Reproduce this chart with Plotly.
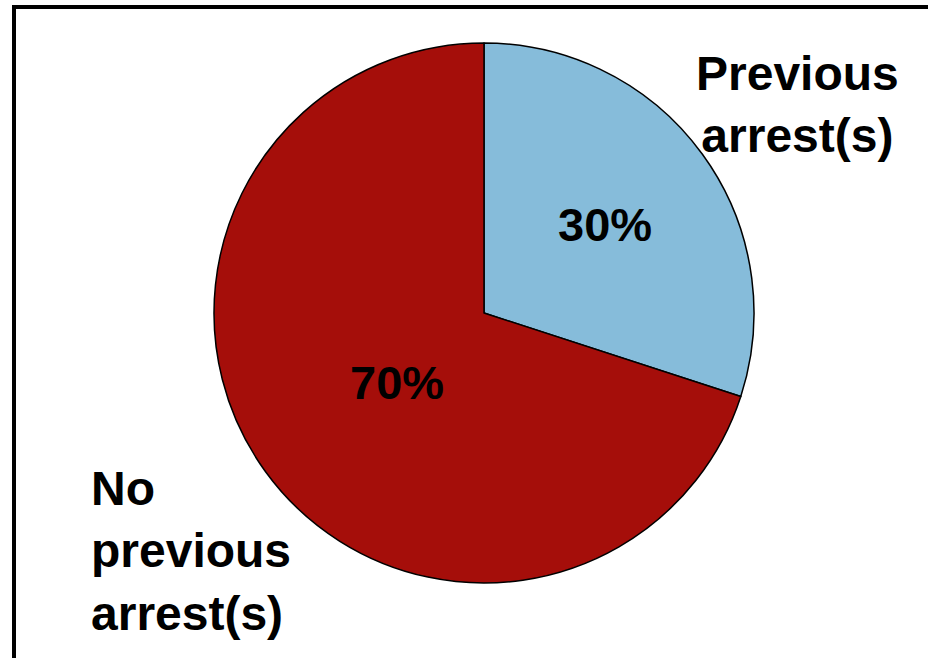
import plotly.graph_objects as go

categories = ["Previous arrest(s)", "No previous arrest(s)"]
values = [30, 70]
colors = ["#86BCDA", "#A50E0A"]
outer_labels = ["Previous<br>arrest(s)", "No<br>previous<br>arrest(s)"]

W, H = 928, 658
FONT = "Liberation Sans, Arial, Helvetica, sans-serif"

cx, cy, r = 484, 313, 270

fig = go.Figure(go.Pie(
    labels=categories,
    values=values,
    sort=False,
    direction="clockwise",
    rotation=0,
    marker=dict(colors=colors, line=dict(color="black", width=1.5)),
    textinfo="none",
    hoverinfo="label+percent",
    showlegend=False,
    domain=dict(x=[(cx - r) / W, (cx + r) / W], y=[(H - cy - r) / H, (H - cy + r) / H]),
))

total = sum(values)
pct_pos = [(605, 225), (397, 382)]
annotations = []
for v, (px, py) in zip(values, pct_pos):
    annotations.append(dict(
        x=px / W, y=1 - py / H, xref="paper", yref="paper",
        text=f"<b>{round(100 * v / total)}%</b>", showarrow=False,
        font=dict(family=FONT, size=47, color="black"),
        xanchor="center", yanchor="middle",
    ))

annotations.append(dict(
    x=797 / W, y=1 - 105 / H, xref="paper", yref="paper",
    text=f"<b>{outer_labels[0]}</b>", showarrow=False, align="center",
    font=dict(family=FONT, size=48, color="black"),
    xanchor="center", yanchor="middle",
))
annotations.append(dict(
    x=89 / W, y=1 - 551 / H, xref="paper", yref="paper",
    text=f"<b>{outer_labels[1]}</b>", showarrow=False, align="left",
    font=dict(family=FONT, size=48, color="black"),
    xanchor="left", yanchor="middle",
))

fig.update_layout(
    width=W, height=H,
    margin=dict(l=0, r=0, t=0, b=0),
    paper_bgcolor="white", plot_bgcolor="white",
    annotations=annotations,
    shapes=[dict(
        type="rect", xref="paper", yref="paper",
        x0=14 / W, x1=1.2, y0=-0.2, y1=1 - 7 / H,
        line=dict(color="black", width=4), fillcolor="rgba(0,0,0,0)",
        layer="above",
    )],
)

fig.write_html("out.html")
